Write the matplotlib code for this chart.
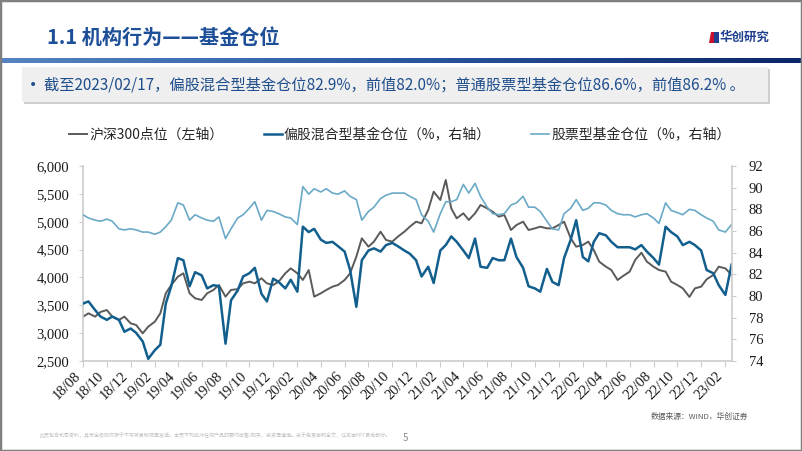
import matplotlib
matplotlib.use("Agg")
import matplotlib.pyplot as plt
from matplotlib.patches import Rectangle, Polygon
from matplotlib.colors import LinearSegmentedColormap
from matplotlib.ticker import FuncFormatter
import numpy as np
import pandas as pd

plt.rcParams['font.family'] = ['Noto Sans CJK SC', 'DejaVu Sans']

# ---------------- data ----------------
dates = list(pd.date_range('2018-08-01', '2023-02-01', freq='SMS')) + [pd.Timestamp('2023-02-17')]

csi300 = [3296, 3356, 3296, 3380, 3415, 3296, 3236, 3296, 3176, 3146,
          2997, 3116, 3206, 3356, 3715, 3864, 4014, 4074, 3715, 3625,
          3595, 3715, 3775, 3864, 3655, 3775, 3790, 3894, 3924, 3894,
          3984, 3894, 3864, 3924, 4074, 4163, 4074, 3954, 4133, 3655,
          3715, 3775, 3834, 3864, 3954, 4074, 4373, 4702, 4552, 4642,
          4821, 4672, 4642, 4730, 4821, 4911, 5001, 4971, 5210, 5539,
          5390, 5749, 5240, 5061, 5151, 5031, 5151, 5300, 5240, 5180,
          5091, 5121, 4851, 4941, 5001, 4851, 4881, 4911, 4881, 4881,
          4941, 5001, 4702, 4552, 4582, 4642, 4492, 4283, 4193, 4133,
          3954, 4026, 4104, 4313, 4444, 4283, 4193, 4133, 4104, 3924,
          3864, 3804, 3650, 3804, 3834, 3966, 4044, 4193, 4163, 4044]

mixed_fund = [79.3, 79.5, 78.7, 78.1, 77.8, 78.1, 77.8, 76.7, 77.0, 76.6,
              75.8, 74.2, 75.0, 75.5, 79.3, 80.9, 83.5, 83.3, 80.9, 82.2,
              81.9, 80.7, 81.0, 80.9, 75.6, 79.6, 80.5, 81.8, 82.1, 82.6,
              80.2, 79.5, 81.6, 81.3, 80.7, 81.5, 80.4, 86.4, 85.9, 86.2,
              85.2, 84.9, 85.0, 84.6, 84.1, 82.4, 79.0, 83.3, 84.2, 84.4,
              84.1, 84.7, 84.9, 84.6, 84.2, 83.9, 83.3, 81.8, 82.7, 81.2,
              84.2, 84.7, 85.5, 85.0, 84.2, 83.5, 85.3, 82.7, 82.6, 83.5,
              83.3, 83.3, 85.3, 83.6, 82.6, 80.9, 80.7, 80.4, 82.5, 81.3,
              81.0, 83.5, 85.2, 87.0, 83.6, 83.2, 85.0, 85.8, 85.6, 85.0,
              84.5, 84.5, 84.5, 84.3, 84.7, 84.1, 83.5, 82.9, 86.4, 85.9,
              85.5, 84.7, 85.0, 84.7, 84.2, 82.4, 82.1, 81.0, 80.1, 82.9]

stock_fund = [87.5, 87.2, 87.0, 86.9, 87.1, 86.9, 86.2, 86.1, 86.2, 86.1,
              85.9, 85.9, 85.7, 85.9, 86.4, 87.0, 88.6, 88.4, 87.0, 87.5,
              87.2, 87.0, 86.9, 87.3, 85.3, 86.2, 87.2, 87.5, 88.1, 88.7,
              87.0, 87.9, 87.8, 87.6, 87.3, 87.2, 86.6, 90.1, 89.4, 89.9,
              89.6, 89.9, 89.5, 89.4, 89.7, 89.2, 88.9, 87.0, 87.8, 88.2,
              89.0, 89.3, 89.5, 89.5, 89.5, 89.2, 88.9, 87.5, 86.9, 85.9,
              87.6, 88.7, 88.7, 88.9, 90.3, 89.5, 90.4, 89.2, 88.2, 87.6,
              87.5, 87.6, 88.4, 88.6, 89.2, 88.2, 88.2, 87.8, 86.9, 86.2,
              86.1, 87.6, 88.1, 88.9, 87.9, 88.1, 88.6, 88.6, 88.4, 87.9,
              87.6, 87.5, 87.5, 87.3, 87.5, 87.6, 87.2, 86.7, 88.6, 87.9,
              87.7, 87.5, 88.0, 87.9, 87.5, 87.2, 86.9, 86.1, 85.9, 86.6]

xtick_labels = ['18/08', '18/10', '18/12', '19/02', '19/04', '19/06', '19/08', '19/10',
                '19/12', '20/02', '20/04', '20/06', '20/08', '20/10', '20/12', '21/02',
                '21/04', '21/06', '21/08', '21/10', '21/12', '22/02', '22/04', '22/06',
                '22/08', '22/10', '22/12', '23/02']
left_ticks = [2500, 3000, 3500, 4000, 4500, 5000, 5500, 6000]
right_ticks = [74, 76, 78, 80, 82, 84, 86, 88, 90, 92]

series_names = ['沪深300点位（左轴）', '偏股混合型基金仓位（%，右轴）', '股票型基金仓位（%，右轴）']
title = '1.1 机构行为——基金仓位'
banner = '截至2023/02/17，偏股混合型基金仓位82.9%，前值82.0%；普通股票型基金仓位86.6%，前值86.2% 。'
source = '数据来源：WIND，华创证券'
disclaimer = ('此页包含机密资料，其安全级别仅限于不可被复制或再发送。本页不构成对任何产品的要约出售/购买，'
              '投资需谨慎。关于免责声明全文，详见本PPT最后部分。')

# ---------------- figure ----------------
W, H = 802, 451
fig = plt.figure(figsize=(W / 100, H / 100), dpi=100)
fig.patch.set_facecolor('white')

def fx(px):
    return px / W

def fy(py):
    return 1 - py / H

C_GRAY = '#5a5a5a'
C_DARK = '#125f8e'
C_LIGHT = '#6aa9c7'
C_TITLE = '#1d4f99'
C_BANNER = '#1f4e8c'

# title
fig.text(fx(47), fy(37), title, fontsize=14.5, fontweight='bold', color=C_TITLE,
         ha='left', va='center')

# logo
fig.patches.append(Polygon([[fx(709), fy(43)], [fx(711), fy(32)], [fx(716), fy(32)], [fx(714), fy(43)]],
                           closed=True, transform=fig.transFigure, facecolor='#c8102e', edgecolor='none'))
fig.patches.append(Rectangle((fx(714), fy(43)), fx(5), 11 / H, transform=fig.transFigure,
                             facecolor='#1f3f8f', edgecolor='none'))
fig.text(fx(720), fy(37), '华创研究', fontsize=9, fontweight='bold', color='#1f3f8f',
         ha='left', va='center')

# gradient band
band = fig.add_axes([0, fy(63), 1, 5 / H])
cmap = LinearSegmentedColormap.from_list('band', ['#5584c2', '#2a58a0', '#0b266a'])
band.imshow(np.linspace(0, 1, 400).reshape(1, -1), aspect='auto', cmap=cmap)
band.set_axis_off()

# banner box with shadow
fig.patches.append(Rectangle((fx(24), fy(104)), fx(746), 35 / H, transform=fig.transFigure,
                             facecolor='#cfcfcf', edgecolor='none', zorder=0))
fig.patches.append(Rectangle((fx(22), fy(102)), fx(746), 35 / H, transform=fig.transFigure,
                             facecolor='#efefef', edgecolor='none', zorder=1))
fig.text(fx(29), fy(85), '•', fontsize=10, color=C_BANNER, ha='left', va='center',
         family='DejaVu Sans')
fig.text(fx(44), fy(85), banner, fontsize=11, color=C_BANNER, ha='left', va='center',
         family=['Noto Sans CJK SC', 'DejaVu Sans'])

# ---------------- chart ----------------
ax = fig.add_axes([fx(83), fy(361), (732 - 83) / W, (361 - 166) / H])
ax2 = ax.twinx()

l1, = ax.plot(dates, csi300, color=C_GRAY, lw=1.4, label=series_names[0])
l2, = ax2.plot(dates, mixed_fund, color=C_DARK, lw=1.8, label=series_names[1])
l3, = ax2.plot(dates, stock_fund, color=C_LIGHT, lw=1.2, label=series_names[2])

ax.set_xlim(pd.Timestamp('2018-08-01'), pd.Timestamp('2023-02-18'))
ax.set_ylim(2500, 6000)
ax2.set_ylim(74, 92)
ax.set_yticks(left_ticks)
ax.yaxis.set_major_formatter(FuncFormatter(lambda v, p: f'{int(v):,}'))
ax2.set_yticks(right_ticks)

xticks = [pd.Timestamp('20' + s.split('/')[0] + '-' + s.split('/')[1] + '-01') for s in xtick_labels]
ax.set_xticks(xticks)
ax.set_xticklabels(xtick_labels, rotation=45, ha='right', va='top')

serif = 'Liberation Serif'
for lab in ax.get_xticklabels() + ax.get_yticklabels() + ax2.get_yticklabels():
    lab.set_fontfamily(serif)
    lab.set_fontsize(10.5)
    lab.set_color('#1a1a1a')

spine_c = '#cccccc'
for a in (ax, ax2):
    a.spines['top'].set_visible(False)
    for s in ('left', 'right', 'bottom'):
        a.spines[s].set_color(spine_c)
        a.spines[s].set_linewidth(1.2)
    a.set_facecolor('none')
ax.spines['right'].set_visible(False)
ax2.spines['left'].set_visible(False)
ax2.spines['bottom'].set_visible(False)

ax.tick_params(axis='x', direction='out', length=4, color=spine_c, pad=2)
ax.tick_params(axis='y', direction='out', length=3, color=spine_c, pad=7)
ax2.tick_params(axis='y', direction='out', length=3, color=spine_c, pad=9)

# legend
fig.legend(handles=[l1, l2, l3], loc='center', bbox_to_anchor=(fx(400), fy(135)), ncol=3,
           frameon=False, fontsize=10, handlelength=1.3, handletextpad=0.15,
           columnspacing=2.9, labelcolor='#262626')

# source & footer
fig.text(fx(651), fy(417), source, fontsize=5.6, color='#595959', ha='left', va='center')
fig.text(fx(40), fy(435), disclaimer, fontsize=3.6, color='#c0c0c0', ha='left', va='center')
fig.text(fx(403), fy(438), '5', fontsize=7, color='#8c8c8c', ha='left', va='center')

# outer frame
fig.patches.append(Rectangle((0, 0), 1, 1, transform=fig.transFigure, fill=False,
                             edgecolor='#808080', lw=2.5, zorder=10))

fig.savefig('out.png', dpi=100)
